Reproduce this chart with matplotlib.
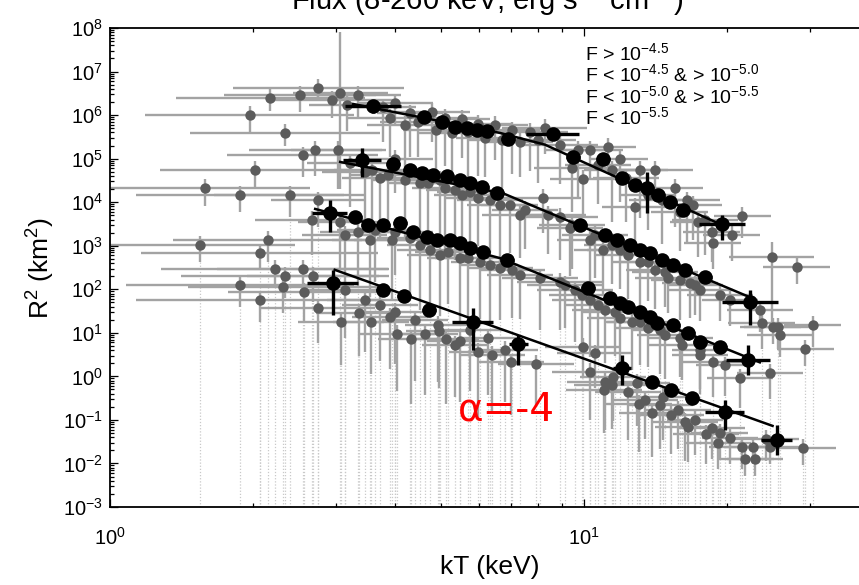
import numpy as np
import matplotlib
matplotlib.use("Agg")
import matplotlib.pyplot as plt
from matplotlib.ticker import LogLocator, NullFormatter

plt.rcParams['font.family'] = ['Liberation Sans', 'DejaVu Sans']
plt.rcParams['mathtext.fontset'] = 'custom'
plt.rcParams['mathtext.rm'] = 'Liberation Sans'
plt.rcParams['mathtext.it'] = 'Liberation Sans:italic'
plt.rcParams['mathtext.bf'] = 'Liberation Sans:bold'

# ---------------- flux bin labels ----------------
bin_labels = [
    'F > 10$^{-4.5}$',
    'F < 10$^{-4.5}$ & > 10$^{-5.0}$',
    'F < 10$^{-5.0}$ & > 10$^{-5.5}$',
    'F < 10$^{-5.5}$',
]

# ---------------- individual spectra (grey) ----------------
# kT (keV), R^2 (km^2), kT error (dex), R^2 lower error (dex)
g1_kT = [2.34, 2.75, 3.06, 3.34, 2.94, 3.16, 3.77, 3.99, 4.29, 4.78, 5.09, 5.53, 5.97, 6.49, 7.05, 7.69,
         8.27, 9.44, 9.95, 10.3, 11.23, 11.91, 13.13, 14.11, 12.82, 15.56, 16.5, 17.0, 18.0, 18.6, 20.5, 21.6,
         3.90, 4.19, 4.47, 4.87, 5.27, 5.69, 6.18, 6.71, 7.33, 8.0, 8.9, 9.71, 10.7, 11.46, 12.26, 13.65,
         14.61, 15.94, 17.4, 2.52, 2.18, 1.97]
g1_R2 = [3.9e5, 4.2e6, 3.2e6, 2.9e6, 2.2e6, 1.7e6, 1.5e6, 1.9e6, 1.1e6, 1.2e6, 8.6e5, 8.1e5, 6.3e5, 5.9e5, 4.5e5, 4.1e5,
         5.1e5, 6.1e4, 3.4e4, 1.6e5, 1.85e5, 1.0e5, 5.5e4, 5.5e4, 7.8e3, 2.1e4, 1.1e4, 8.6e3, 3.9e3, 2.1e3, 1.8e3, 4.8e3,
         8.6e5, 5.9e5, 6.9e5, 4.5e5, 3.9e5, 4.1e5, 3.0e5, 2.7e5, 2.4e5, 2.7e5, 2.1e5, 1.6e5, 7.1e4, 5.5e4, 3.6e4, 1.46e4,
         1.1e4, 6.0e3, 3.5e3, 2.9e6, 2.5e6, 1.0e6]
g1_dx = [0.2, 0.18, 0.10, 0.09, 0.14, 0.08, 0.07, 0.08, 0.07, 0.08, 0.07, 0.06, 0.07, 0.07, 0.06, 0.08,
         0.09, 0.08, 0.07, 0.07, 0.06, 0.06, 0.06, 0.08, 0.07, 0.06, 0.07, 0.06, 0.07, 0.06, 0.06, 0.06,
         0.09, 0.08, 0.08, 0.07, 0.07, 0.07, 0.06, 0.07, 0.07, 0.08, 0.08, 0.07, 0.07, 0.06, 0.07, 0.06,
         0.07, 0.06, 0.06, 0.16, 0.2, 0.22]
g1_dlo = [0.3, 0.25, 2.2, 0.5, 0.4, 0.6, 0.8, 0.5, 1.0, 0.7, 1.1, 0.9, 1.2, 0.8, 1.0, 0.9,
          0.6, 1.0, 0.8, 0.7, 0.5, 1.0, 1.1, 0.7, 0.9, 0.9, 1.0, 0.8, 0.8, 0.7, 0.6, 0.5,
          0.9, 1.1, 0.8, 1.2, 1.0, 1.3, 0.9, 1.1, 0.8, 1.0, 0.9, 1.1, 0.9, 1.2, 1.0, 0.8,
          1.0, 0.9, 0.8, 0.4, 0.3, 0.4]
g1_dhi = [0.2] * len(g1_kT)
g1_dhi[2] = 1.4

g2_kT = [1.59, 2.55, 2.71, 3.03, 3.45, 3.71, 3.99, 4.51, 4.97, 5.34, 5.75, 6.33, 6.98, 7.51, 8.19, 8.9,
         9.44, 10.3, 10.96, 11.91, 13.13, 14.11, 15.04, 16.74, 17.57, 18.7, 20.33, 23.5, 24.9, 25.0, 28.1,
         3.21, 3.57, 3.86, 4.19, 4.69, 5.09, 5.53, 5.97, 6.65, 7.33, 8.4, 9.34, 10.55, 11.46, 12.38, 13.65,
         14.83, 15.94, 17.15, 19.36, 2.02, 1.88]
g2_R2 = [2.1e4, 1.2e5, 1.6e5, 1.6e5, 4.9e4, 3.6e4, 1.0e5, 2.8e4, 3.2e4, 1.9e4, 1.7e4, 1.1e4, 8.6e3, 6.6e3, 1.25e4, 4.6e3,
         3.0e3, 1.36e3, 800, 800, 420, 280, 180, 140, 96, 1160, 57, 33, 550, 13.6, 330,
         7.9e4, 5.5e4, 4.2e4, 3.2e4, 2.8e4, 2.1e4, 1.46e4, 1.25e4, 8.6e3, 5.1e3, 5.1e3, 2.6e3, 1.8e3, 1.04e3, 610, 420,
         250, 160, 126, 74, 5.5e4, 1.46e4]
g2_dx = [0.22, 0.16, 0.14, 0.10, 0.09, 0.08, 0.08, 0.07, 0.07, 0.06, 0.07, 0.07, 0.06, 0.07, 0.08, 0.08,
         0.07, 0.07, 0.06, 0.07, 0.06, 0.06, 0.07, 0.06, 0.07, 0.06, 0.06, 0.07, 0.09, 0.06, 0.07,
         0.09, 0.08, 0.08, 0.07, 0.07, 0.07, 0.06, 0.07, 0.07, 0.08, 0.08, 0.07, 0.07, 0.06, 0.07, 0.06,
         0.07, 0.06, 0.06, 0.07, 0.2, 0.22]
g2_dlo = [0.4, 0.5, 0.6, 0.9, 1.2, 1.4, 0.8, 1.5, 1.3, 1.6, 1.4, 1.2, 1.1, 0.9, 0.8, 1.0,
          1.0, 1.1, 1.0, 0.9, 1.0, 0.9, 0.8, 0.8, 0.7, 0.6, 0.6, 0.5, 1.5, 0.4, 0.4,
          1.0, 1.3, 1.1, 1.4, 1.2, 1.5, 1.3, 1.1, 1.2, 1.0, 0.9, 1.1, 1.0, 0.9, 1.0, 0.9,
          0.8, 0.9, 0.7, 0.6, 0.4, 0.4]
g2_dhi = [0.2] * len(g2_kT)
g2_dhi[28] = 0.35

g3_kT = [2.07, 2.15, 2.40, 2.75, 2.67, 3.13, 3.54, 3.99, 4.51, 4.97, 5.48, 6.03, 6.65, 7.33, 8.9, 9.57, 10.3,
         11.07, 11.91, 9.95, 10.55, 13.13, 14.47, 15.94, 17.57, 18.7, 21.34, 24.69, 23.7, 25.7, 25.9, 29.3, 30.4,
         3.06, 3.34, 3.62, 3.94, 4.29, 4.73, 5.16, 5.69, 6.33, 7.05, 8.08, 9.12, 9.90, 10.7, 11.63, 12.63,
         13.65, 14.83, 16.1, 17.57, 19.8, 1.55]
g3_R2 = [680, 1360, 1.46e4, 1.1e4, 3.9e3, 1.8e3, 1.36e3, 2.1e3, 1.04e3, 610, 520, 420, 310, 210, 150, 96, 57,
         33, 22, 4.7, 3.4, 18, 11.6, 7.6, 4.0, 2.1, 0.92, 1.2, 17, 13.6, 8.9, 4.3, 15,
         3.5e3, 2.1e3, 2.3e3, 1.36e3, 1.5e3, 800, 720, 520, 360, 280, 180, 126, 74, 44, 30, 18,
         13, 8.9, 5.3, 3.1, 1.8, 1.04e3]
g3_dx = [0.25, 0.2, 0.16, 0.10, 0.12, 0.09, 0.08, 0.08, 0.07, 0.07, 0.07, 0.06, 0.07, 0.07, 0.09, 0.08, 0.08,
         0.07, 0.07, 0.08, 0.08, 0.07, 0.06, 0.07, 0.06, 0.07, 0.07, 0.07, 0.07, 0.08, 0.07, 0.06, 0.06,
         0.09, 0.08, 0.08, 0.08, 0.07, 0.07, 0.07, 0.07, 0.06, 0.07, 0.08, 0.08, 0.07, 0.07, 0.07, 0.06,
         0.07, 0.06, 0.07, 0.06, 0.06, 0.2]
g3_dlo = [0.4, 0.5, 0.5, 0.6, 0.8, 1.2, 1.3, 1.0, 1.5, 1.4, 1.5, 1.3, 1.2, 1.0, 1.1, 1.2, 1.3,
          1.2, 1.1, 0.7, 0.8, 1.0, 1.0, 0.9, 0.9, 0.8, 0.7, 0.6, 0.6, 0.5, 0.5, 0.4, 0.5,
          1.1, 1.3, 1.2, 1.4, 1.3, 1.5, 1.2, 1.4, 1.3, 1.1, 1.2, 1.0, 1.1, 1.2, 1.0, 1.1,
          0.9, 1.0, 0.8, 0.9, 0.7, 0.4]
g3_dhi = [0.2] * len(g3_kT)

g4_kT = [2.23, 2.34, 2.55, 2.68, 2.32, 2.57, 2.75, 3.07, 3.35, 3.55, 3.90, 4.03, 4.32, 4.62, 4.94, 5.12, 5.48,
         5.97, 6.40, 7.01, 7.92, 11.02, 11.07, 11.51, 12.93, 13.06, 13.9, 14.68, 15.26, 16.34, 16.57, 18.1,
         19.2, 19.36, 21.6, 21.9, 22.7, 22.95, 24.2, 24.69, 28.97,
         3.13, 3.45, 3.71, 3.99, 4.40, 4.92, 5.34, 5.75, 6.27, 6.81, 10.3, 11.46, 12.38, 13.45, 14.47, 15.79,
         17.15, 18.6, 20.33, 2.07, 1.88]
g4_R2 = [290, 200, 290, 200, 113, 87, 37, 18, 29, 18, 23, 9.4, 7.2, 9.4, 11, 7.2, 6.5,
         3.6, 3.1, 2.1, 1.93, 0.49, 0.74, 0.97, 0.71, 0.23, 0.144, 0.34, 0.13, 0.09, 0.069, 0.048,
         0.030, 0.05, 0.024, 0.0127, 0.024, 0.0127, 0.037, 0.024, 0.0227,
         96, 57, 44, 30, 20, 15, 5.3, 11.6, 7.6, 4.0, 1.26, 0.63, 0.44, 0.29, 0.22, 0.169,
         0.10, 0.065, 0.0385, 57, 126]
g4_dx = [0.24, 0.22, 0.18, 0.14, 0.2, 0.16, 0.12, 0.09, 0.09, 0.08, 0.08, 0.08, 0.07, 0.07, 0.07, 0.07, 0.07,
         0.06, 0.07, 0.07, 0.08, 0.08, 0.08, 0.07, 0.07, 0.07, 0.07, 0.07, 0.07, 0.07, 0.07, 0.07,
         0.07, 0.06, 0.07, 0.06, 0.06, 0.06, 0.07, 0.07, 0.07,
         0.09, 0.08, 0.08, 0.08, 0.07, 0.07, 0.07, 0.07, 0.06, 0.07, 0.08, 0.08, 0.07, 0.07, 0.07, 0.07,
         0.06, 0.07, 0.06, 0.26, 0.24]
g4_dlo = [0.4, 0.5, 0.5, 0.6, 0.6, 0.7, 0.8, 1.0, 1.0, 1.2, 1.2, 1.3, 1.5, 1.4, 1.3, 1.5, 1.4,
          1.5, 1.3, 1.2, 1.0, 1.0, 1.1, 1.0, 1.0, 1.1, 1.0, 1.0, 0.9, 0.9, 0.8, 0.7,
          0.6, 0.6, 0.5, 0.4, 0.4, 0.4, 0.5, 0.4, 0.4,
          1.1, 1.2, 1.3, 1.2, 1.4, 1.3, 1.2, 1.4, 1.3, 1.2, 1.1, 1.0, 1.1, 0.9, 1.0, 0.9,
          0.8, 0.7, 0.6, 0.5, 0.5]
g4_dhi = [0.2] * len(g4_kT)

# ---------------- binned averages (black) ----------------
b1_kT = [3.59, 4.60, 5.02, 5.34, 5.67, 5.95, 6.24, 6.91, 8.60, 9.48, 10.96, 12.03, 12.82, 13.58, 14.33, 15.19, 16.18, 19.55]
b1_R2 = [1.6e6, 9.0e5, 6.9e5, 5.3e5, 5.1e5, 4.5e5, 4.3e5, 2.8e5, 3.7e5, 1.1e5, 9.8e4, 3.6e4, 2.5e4, 2.1e4, 1.5e4, 1.0e4, 6.6e3, 3.2e3]
b1_dx = [0.06, 0.015, 0.015, 0.015, 0.015, 0.015, 0.015, 0.015, 0.056, 0.015, 0.015, 0.015, 0.015, 0.015, 0.015, 0.015, 0.015, 0.048]
b1_dlo = [0.15, 0.1, 0.1, 0.1, 0.1, 0.1, 0.1, 0.1, 0.1, 0.1, 0.1, 0.1, 0.1, 0.58, 0.1, 0.1, 0.1, 0.37]
b1_dhi = [0.15, 0.08, 0.08, 0.08, 0.08, 0.08, 0.08, 0.08, 0.08, 0.08, 0.08, 0.08, 0.08, 0.36, 0.08, 0.08, 0.08, 0.2]

b2_kT = [3.40, 3.95, 4.29, 4.55, 4.80, 5.14, 5.48, 5.75, 6.10, 6.55, 9.81, 11.07, 11.74, 12.50, 13.13, 13.78,
         14.61, 15.41, 16.34, 18.0, 22.4]
b2_R2 = [9.3e4, 7.5e4, 5.5e4, 4.7e4, 4.2e4, 4.0e4, 3.2e4, 2.8e4, 2.2e4, 1.6e4, 3.0e3, 1.8e3, 1.36e3, 1.04e3, 800, 680,
         470, 360, 280, 190, 51]
b2_dx = [0.04] + [0.015] * 19 + [0.06]
b2_dlo = [0.39] + [0.1] * 19 + [0.53]
b2_dhi = [0.28] + [0.08] * 19 + [0.28]

b3_kT = [2.91, 3.29, 3.50, 3.77, 4.09, 4.36, 4.67, 4.90, 5.22, 5.48, 5.75, 6.12, 6.88, 10.2, 11.35, 11.91,
         12.38, 13.13, 13.78, 14.26, 15.41, 16.57, 17.57, 19.36, 22.2]
b3_R2 = [5.6e3, 4.6e3, 3.0e3, 3.0e3, 3.3e3, 2.1e3, 1.6e3, 1.36e3, 1.36e3, 1.16e3, 890, 720, 470, 107, 63, 48,
         39, 30, 23, 17, 15, 9.9, 6.2, 4.7, 2.4]
b3_dx = [0.037] + [0.015] * 23 + [0.046]
b3_dlo = [0.44] + [0.1] * 23 + [0.35]
b3_dhi = [0.30] + [0.08] * 23 + [0.34]

b4_kT = [2.95, 3.77, 4.17, 4.71, 5.83, 7.26, 12.03, 13.9, 15.3, 16.9, 19.8, 25.5]
b4_R2 = [140, 96, 70, 33, 18, 5.5, 1.56, 0.74, 0.49, 0.32, 0.152, 0.035]
b4_dx = [0.054, 0.015, 0.015, 0.015, 0.043, 0.02, 0.02, 0.015, 0.015, 0.015, 0.042, 0.032]
b4_dlo = [0.735, 0.1, 0.1, 0.1, 0.64, 0.48, 0.39, 0.1, 0.1, 0.1, 0.41, 0.35]
b4_dhi = [0.30, 0.08, 0.08, 0.08, 0.32, 0.21, 0.30, 0.08, 0.08, 0.08, 0.28, 0.34]

# ---------------- power-law fits (vertices of the broken lines) ----------------
fit1_kT = [3.26, 6.65, 8.27, 19.55]
fit1_R2 = [1.8e6, 3.9e5, 2.1e5, 3.0e3]
fit2_kT = [3.06, 6.75, 22.6]
fit2_R2 = [8.4e4, 1.6e4, 63]
fit3_kT = [2.71, 6.65, 23.5]
fit3_R2 = [7.0e3, 520, 2.1]
fit4_kT = [2.98, 25.0]
fit4_R2 = [280, 0.073]

grey = [(g1_kT, g1_R2, g1_dx, g1_dlo, g1_dhi),
        (g2_kT, g2_R2, g2_dx, g2_dlo, g2_dhi),
        (g3_kT, g3_R2, g3_dx, g3_dlo, g3_dhi),
        (g4_kT, g4_R2, g4_dx, g4_dlo, g4_dhi)]
black = [(b1_kT, b1_R2, b1_dx, b1_dlo, b1_dhi),
         (b2_kT, b2_R2, b2_dx, b2_dlo, b2_dhi),
         (b3_kT, b3_R2, b3_dx, b3_dlo, b3_dhi),
         (b4_kT, b4_R2, b4_dx, b4_dlo, b4_dhi)]
fits = [(fit1_kT, fit1_R2), (fit2_kT, fit2_R2), (fit3_kT, fit3_R2), (fit4_kT, fit4_R2)]

Y_MIN, Y_MAX = 1e-3, 1e8


def log_err(v, lo, hi):
    v = np.asarray(v, float)
    return np.vstack([v - v * 10 ** (-np.asarray(lo, float)), v * 10 ** np.asarray(hi, float) - v])


fig = plt.figure(figsize=(8.59, 5.85), dpi=100)
ax = fig.add_axes([0.128, 0.1333, 0.884, 0.8188])
ax.set_xscale('log')
ax.set_yscale('log')

# faint dotted tails of unconstrained lower errors (faintest bins)
for kT, R2, dx, dlo, dhi in grey[2:]:
    R2 = np.asarray(R2, float)
    ax.vlines(kT, Y_MIN, R2 * 10 ** (-np.asarray(dlo)), colors='#c9c9c9',
              linestyles=(0, (1, 1.5)), linewidth=0.9, zorder=0)

# grey error bars, then grey markers
for kT, R2, dx, dlo, dhi in grey:
    ax.errorbar(kT, R2, xerr=log_err(kT, dx, dx), yerr=log_err(R2, dlo, dhi),
                fmt='none', ecolor='#a3a3a3', elinewidth=1.7, capsize=0, zorder=1)
for kT, R2, dx, dlo, dhi in grey:
    ax.plot(kT, R2, 'o', ms=7.5, color='#5c5c5c', mec='none', zorder=2)

# fitted power laws
for kT, R2 in fits:
    ax.plot(kT, R2, '-', color='black', lw=1.8, zorder=3)

# binned averages
for kT, R2, dx, dlo, dhi in black:
    ax.errorbar(kT, R2, xerr=log_err(kT, dx, dx), yerr=log_err(R2, dlo, dhi),
                fmt='o', ms=10.5, color='black', mec='none', ecolor='black',
                elinewidth=2.4, capsize=0, zorder=4)

ax.set_xlim(1, 40)
ax.set_ylim(Y_MIN, Y_MAX)
ax.yaxis.set_major_locator(LogLocator(base=10, numticks=30))
ax.yaxis.set_minor_locator(LogLocator(base=10, subs=np.arange(2, 10), numticks=200))
ax.yaxis.set_minor_formatter(NullFormatter())
ax.xaxis.set_minor_locator(LogLocator(base=10, subs=np.arange(2, 10), numticks=50))
ax.xaxis.set_minor_formatter(NullFormatter())
ax.tick_params(which='both', direction='in', top=True, right=True, width=0.9)
ax.tick_params(which='major', length=6, labelsize=14.5)
ax.tick_params(axis='x', which='major', pad=14)
ax.tick_params(axis='y', which='major', pad=5)
ax.tick_params(which='minor', length=3)
for s in ax.spines.values():
    s.set_linewidth(1.3)

ax.set_xlabel('kT (keV)', fontsize=19, labelpad=5)
ax.set_ylabel('R$^2$ (km$^2$)', fontsize=19, labelpad=4)
fig.text(0.567, 1 - 10 / 585, 'Flux (8-260 keV, erg s$^{-1}$ cm$^{-2}$)',
         ha='center', va='baseline', fontsize=21)

legend_y = [0.934, 0.889, 0.844, 0.799]
for lab, y in zip(bin_labels, legend_y):
    ax.text(0.6255, y, lab, transform=ax.transAxes, fontsize=14, va='baseline', ha='left')

ax.text(6.85, 0.17, 'α=-4', color='red', fontsize=28, ha='center', va='center',
        family='DejaVu Sans', zorder=6)

fig.savefig('out.png', dpi=100)
